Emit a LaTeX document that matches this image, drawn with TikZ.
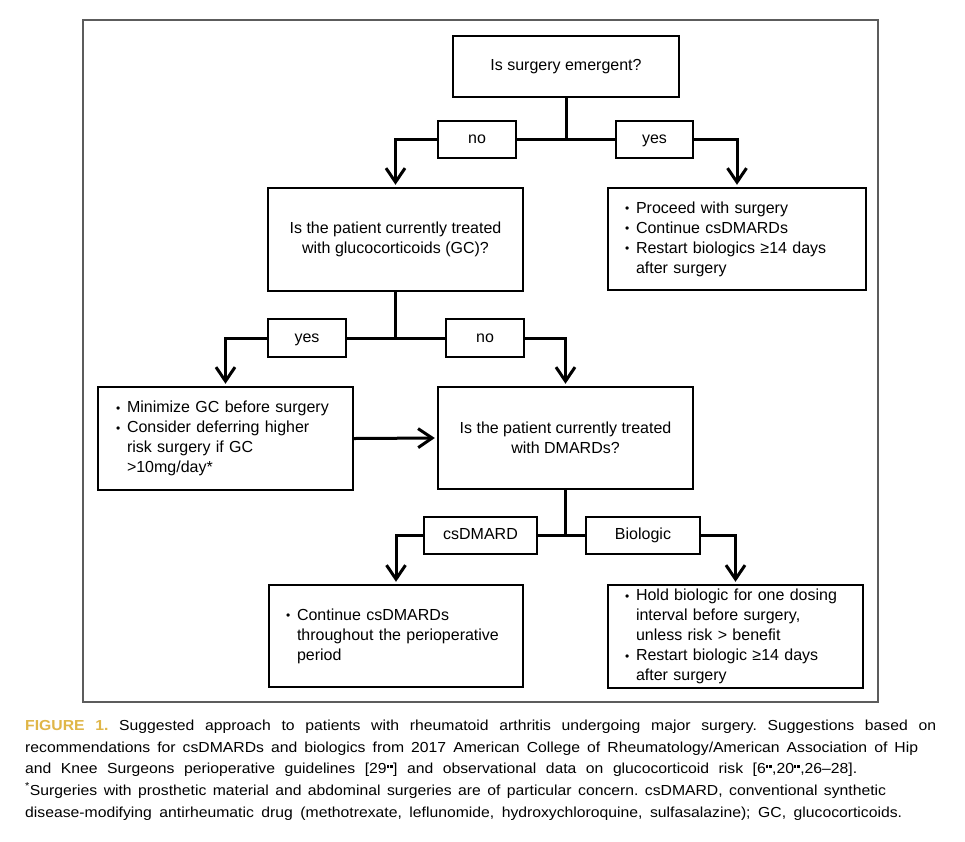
\documentclass[tikz,border=0pt]{standalone}
\usepackage{fontspec}
\setmainfont{Liberation Sans}
\newfontfamily\capfont{Liberation Sans}[FakeStretch=1.085]
\usetikzlibrary{arrows.meta,calc}
\definecolor{figgold}{HTML}{E0B648}
\definecolor{framegray}{HTML}{5C5C5C}
\newcommand\bul{\makebox[11pt][l]{\raisebox{0.2pt}{\fontsize{12}{12}\selectfont •}}}
\newcommand\ind{\hspace*{11pt}}
\newcommand\sq{\textsuperscript{\rule{2.4pt}{2.6pt}\kern1pt\rule{2.4pt}{2.6pt}}}
\frenchspacing
\begin{document}
\begin{tikzpicture}[x=1pt,y=-1pt,
  box/.style={draw=black, line width=2.4pt, fill=white, inner sep=0pt,
    font=\fontsize{16}{20}\selectfont, align=center},
  lbl/.style={box, text height=11.5pt, text depth=3.5pt},
  listbox/.style={box, align=left, inner xsep=17pt, inner ysep=0pt},
  conn/.style={line width=3pt},
  arr/.style={conn, -{Straight Barb[length=14pt,width=19pt]}, shorten >=2pt},
  captxt/.style={anchor=base west, inner sep=0pt, font=\capfont\fontsize{14.5}{22}\selectfont}]
\useasboundingbox (0,0) rectangle (965,841);
\fill[white] (0,0) rectangle (965,841);
\draw[framegray, line width=2pt] (83,20) rectangle (878,702);

% level 1
\node[lbl, minimum width=226pt, minimum height=61pt] (q1) at (566,66.5) {Is surgery emergent?};
\node[lbl, minimum width=78pt, minimum height=37pt] (no1) at (477,139.5) {no};
\node[lbl, minimum width=77pt, minimum height=37pt] (yes1) at (654.5,139.5) {yes};
\node[box, minimum width=255pt, minimum height=103pt] (q2) at (395.5,239.5)
  {Is the patient currently treated\\with glucocorticoids (GC)?};
\node[listbox, text width=224pt, minimum height=102pt] (r1) at (737,239)
  {\bul Proceed with surgery\\\bul Continue csDMARDs\\\bul Restart biologics ≥14 days\\\ind after surgery};

% level 2
\node[lbl, minimum width=78pt, minimum height=38pt] (yes2) at (307,338) {yes};
\node[lbl, minimum width=78pt, minimum height=38pt] (no2) at (485,338) {no};
\node[listbox, text width=219pt, inner xsep=18pt, minimum height=103pt] (a1) at (225.5,438.5)
  {\bul Minimize GC before surgery\\\bul Consider deferring higher\\\ind risk surgery if GC\\\ind >10mg/day*};
\node[box, minimum width=255pt, minimum height=102pt] (q3) at (565.5,438)
  {Is the patient currently treated\\with DMARDs?};

% level 3
\node[lbl, minimum width=113pt, minimum height=37pt] (cs) at (480.5,535.5) {csDMARD};
\node[lbl, minimum width=114pt, minimum height=37pt] (bio) at (643,535.5) {Biologic};
\node[listbox, text width=220pt, minimum height=102pt] (c1) at (396,636)
  {\bul Continue csDMARDs\\\ind throughout the perioperative\\\ind period};
\node[listbox, text width=221pt, minimum height=103pt] (h1) at (735.5,636.5)
  {\bul Hold biologic for one dosing\\\ind interval before surgery,\\\ind unless risk > benefit\\\bul Restart biologic ≥14 days\\\ind after surgery};

% connectors level 1
\draw[conn] (q1.south) -- (q1.south |- no1.east);
\draw[conn] (no1.east) -- (yes1.west);
\draw[arr] (no1.west) -| (q2.north);
\draw[arr] (yes1.east) -| (r1.north);
% level 2
\draw[conn] (q2.south) -- (q2.south |- yes2.east);
\draw[conn] (yes2.east) -- (no2.west);
\draw[arr] (yes2.west) -| (a1.north);
\draw[arr] (no2.east) -| (q3.north);
\draw[arr] (a1.east) -- (q3.west);
% level 3
\draw[conn] (q3.south) -- (q3.south |- cs.east);
\draw[conn] (cs.east) -- (bio.west);
\draw[arr] (cs.west) -| (c1.north);
\draw[arr] (bio.east) -| (h1.north);

% caption
\node[captxt] (cap1) at (25,730) {\makebox[911pt][s]{{\color{figgold}\bfseries FIGURE 1.} Suggested approach to patients with rheumatoid arthritis undergoing major surgery. Suggestions based on}};
\node[captxt] (cap2) at (25,752) {\makebox[893pt][s]{recommendations for csDMARDs and biologics from 2017 American College of Rheumatology/American Association of Hip}};
\node[captxt] (cap3) at (25,773) {\makebox[832pt][s]{and Knee Surgeons perioperative guidelines [29\sq] and observational data on glucocorticoid risk [6\sq,20\sq,26–28].}};
\node[captxt] (cap4) at (25,795) {\makebox[861pt][s]{\textsuperscript{*}Surgeries with prosthetic material and abdominal surgeries are of particular concern. csDMARD, conventional synthetic}};
\node[captxt] (cap5) at (25,817) {\makebox[877pt][s]{disease-modifying antirheumatic drug (methotrexate, leflunomide, hydroxychloroquine, sulfasalazine); GC, glucocorticoids.}};
\end{tikzpicture}
\end{document}
